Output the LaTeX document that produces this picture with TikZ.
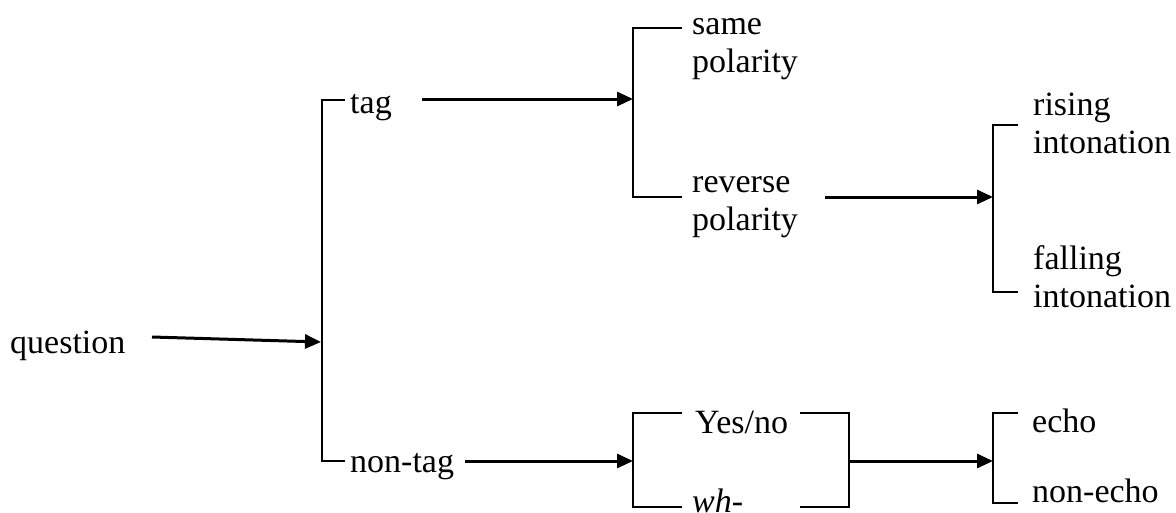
\documentclass[tikz,border=0pt]{standalone}
\usepackage{fontspec}
\setmainfont{Liberation Serif}
\usetikzlibrary{arrows.meta}
\begin{document}
\begin{tikzpicture}[x=1pt,y=-1pt,
  lbl/.style={anchor=base west,inner sep=0pt,align=left,font=\fontsize{34}{38}\selectfont},
  brk/.style={line width=2.4pt},
  arr/.style={line width=3pt,-{Triangle[length=16pt,width=14pt]}}]
\useasboundingbox (0,0) rectangle (1176,512);
% labels (base anchor = baseline of the last line)
\node[lbl] (question) at (10,353) {question};
\node[lbl] (tag) at (350,113) {tag};
\node[lbl] (nontag) at (350,472) {non-tag};
\node[lbl] (same) at (692,72) {same\\polarity};
\node[lbl] (reverse) at (692,230) {reverse\\polarity};
\node[lbl] (rising) at (1033,153) {rising\\intonation};
\node[lbl] (falling) at (1033,307) {falling\\intonation};
\node[lbl] (yesno) at (695,433) {Yes/no};
\node[lbl] (wh) at (692,512) {\textit{wh}-};
\node[lbl] (echo) at (1032,432) {echo};
\node[lbl] (nonecho) at (1032,502) {non-echo};
% brackets
\draw[brk] (345,100) -| (322,461) -- (345,461);
\draw[brk] (682,28) -| (633,197) -- (682,197);
\draw[brk] (1018,125) -| (993,292) -- (1018,292);
\draw[brk] (682,413) -| (633,507) -- (682,507);
\draw[brk] (800,413) -| (849,507) -- (800,507);
\draw[brk] (1018,413) -| (993,503) -- (1018,503);
% connector ends
\coordinate (q-out) at (152,337);
\coordinate (b1-in) at (321,342);
\coordinate (tag-out) at (422,99);
\coordinate (b2-in) at (633,99);
\coordinate (rev-out) at (825,197);
\coordinate (b3-in) at (993,197);
\coordinate (nt-out) at (465,461);
\coordinate (b4-in) at (633,461);
\coordinate (b4-out) at (849,461);
\coordinate (b5-in) at (993,461);
\draw[arr] (q-out) -- (b1-in);
\draw[arr] (tag-out) -- (b2-in);
\draw[arr] (rev-out) -- (b3-in);
\draw[arr] (nt-out) -- (b4-in);
\draw[arr] (b4-out) -- (b5-in);
\end{tikzpicture}
\end{document}
